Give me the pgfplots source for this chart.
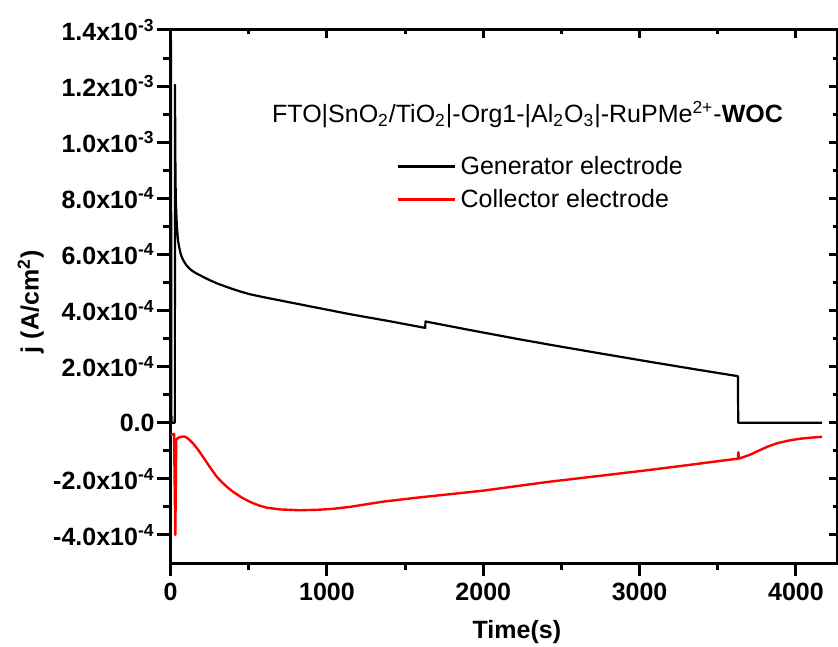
\documentclass[border=0pt]{standalone}
\usepackage{pgfplots}
\pgfplotsset{compat=1.18}
\usepackage{fontspec}
\setmainfont{Liberation Sans}
\newcommand{\fs}{\fontsize{12.5}{15}\selectfont}
\newcommand{\tl}[2]{#1x10\textsuperscript{#2}}
\begin{document}
\begin{tikzpicture}
\useasboundingbox (-85pt,-41.5pt) rectangle (334pt,281.5pt);
\begin{axis}[
  at={(0,0)}, anchor=south west,
  scale only axis, width=333.5pt, height=266.5pt,
  xmin=-4, xmax=4263, ymin=-5e-4, ymax=1.4e-3,
  axis line style={line width=1.5pt},
  xtick={0,1000,2000,3000,4000},
  xticklabels={0,1000,2000,3000,4000},
  minor x tick num=1,
  ytick={-4e-4,-2e-4,0,2e-4,4e-4,6e-4,8e-4,1e-3,1.2e-3,1.4e-3},
  yticklabels={\tl{-4.0}{-4},\tl{-2.0}{-4},0.0,\tl{2.0}{-4},\tl{4.0}{-4},\tl{6.0}{-4},\tl{8.0}{-4},\tl{1.0}{-3},\tl{1.2}{-3},\tl{1.4}{-3}},
  minor y tick num=1,
  scaled y ticks=false,
  tick align=outside, xtick pos=left, ytick pos=left,
  major tick length=6.5pt, minor tick length=3.5pt,
  tick style={line width=1.5pt, black},
  ticklabel style={font=\fs\bfseries},
  yticklabel style={inner sep=1pt},
  xlabel={Time(s)}, ylabel={j (A/cm\textsuperscript{2})},
  label style={font=\fs\bfseries},
  xlabel style={at={(axis description cs:0.52,-0.129)}, anchor=center},
  ylabel style={at={(axis description cs:-0.2087,0.49)}, anchor=center},
  legend style={at={(rel axis cs:0.34,0.772)}, anchor=north west, draw=none, fill=none,
    font=\fs, row sep=2pt, inner sep=0pt},
  legend cell align=left,
  legend image code/.code={\draw[#1] (0pt,0pt) -- (28.5pt,0pt);},
]
\addplot[black, line width=1.1pt, line join=round] coordinates {
  (0,0) (2,1.36e-3) (5,0) (27,0) (28,1.205e-3) (30,9.6e-4) (32,8.4e-4) (34,7.8e-4)
  (40,7.0e-4) (47,6.52e-4) (55,6.25e-4) (65,6.0e-4) (79,5.81e-4) (100,5.62e-4)
  (123,5.48e-4) (150,5.37e-4) (180,5.28e-4) (215,5.18e-4) (251,5.08e-4)
  (300,4.96e-4) (379,4.80e-4) (450,4.67e-4) (507,4.58e-4) (600,4.47e-4)
  (700,4.36e-4) (900,4.14e-4) (1147,3.87e-4) (1400,3.62e-4) (1629,3.38e-4) (1630,3.61e-4)
  (1900,3.32e-4) (2216,2.99e-4) (2427,2.78e-4) (2750,2.47e-4) (3068,2.17e-4) (3350,1.91e-4) (3629,1.66e-4)
  (3631,0) (4168,0)
};
\addlegendentry{Generator electrode}
\addplot[red, line width=1.2pt, line join=round] coordinates {
  (0,-4.3e-5) (22,-4.0e-5) (30,-4.0e-4) (36,-6.0e-5) (45,-5.5e-5) (60,-5.1e-5)
  (80,-4.9e-5) (93,-5.0e-5) (110,-5.6e-5) (130,-6.6e-5) (150,-7.8e-5) (170,-9.2e-5)
  (189,-1.07e-4) (215,-1.28e-4) (240,-1.49e-4) (270,-1.73e-4) (296,-1.93e-4)
  (330,-2.13e-4) (365,-2.31e-4) (399,-2.46e-4) (450,-2.65e-4) (507,-2.82e-4)
  (560,-2.94e-4) (616,-3.03e-4) (700,-3.09e-4) (827,-3.12e-4) (950,-3.10e-4) (1038,-3.07e-4)
  (1147,-3.00e-4) (1350,-2.82e-4) (1577,-2.67e-4) (1800,-2.54e-4) (2000,-2.42e-4) (2200,-2.27e-4) (2427,-2.10e-4)
  (2750,-1.89e-4) (3068,-1.68e-4) (3350,-1.48e-4) (3629,-1.28e-4) (3632,-1.05e-4) (3636,-1.28e-4)
  (3707,-1.14e-4) (3760,-1.0e-4) (3820,-8.5e-5) (3880,-7.3e-5) (3960,-6.3e-5) (4027,-5.7e-5) (4100,-5.3e-5) (4168,-5.0e-5)
};
\addlegendentry{Collector electrode}
\node[font=\fs, anchor=center] at (rel axis cs:0.536,0.841)
  {FTO|SnO\textsubscript{2}/TiO\textsubscript{2}|-Org1-|Al\textsubscript{2}O\textsubscript{3}|-RuPMe\textsuperscript{2+}-\textbf{WOC}};
\end{axis}
\begin{axis}[
  at={(0,0)}, anchor=south west,
  scale only axis, width=333.5pt, height=266.5pt,
  xmin=-4, xmax=4263, ymin=-5e-4, ymax=1.4e-3,
  axis line style={draw=none},
  xtick={0,1000,2000,3000,4000}, minor x tick num=1,
  ytick={-4e-4,-2e-4,0,2e-4,4e-4,6e-4,8e-4,1e-3,1.2e-3,1.4e-3}, minor y tick num=1,
  xticklabels={}, yticklabels={}, scaled y ticks=false,
  tick align=inside, xtick pos=right, ytick pos=right,
  major tick length=4pt, minor tick length=2pt,
  tick style={line width=1.5pt, black},
]
\end{axis}
\end{tikzpicture}
\end{document}
